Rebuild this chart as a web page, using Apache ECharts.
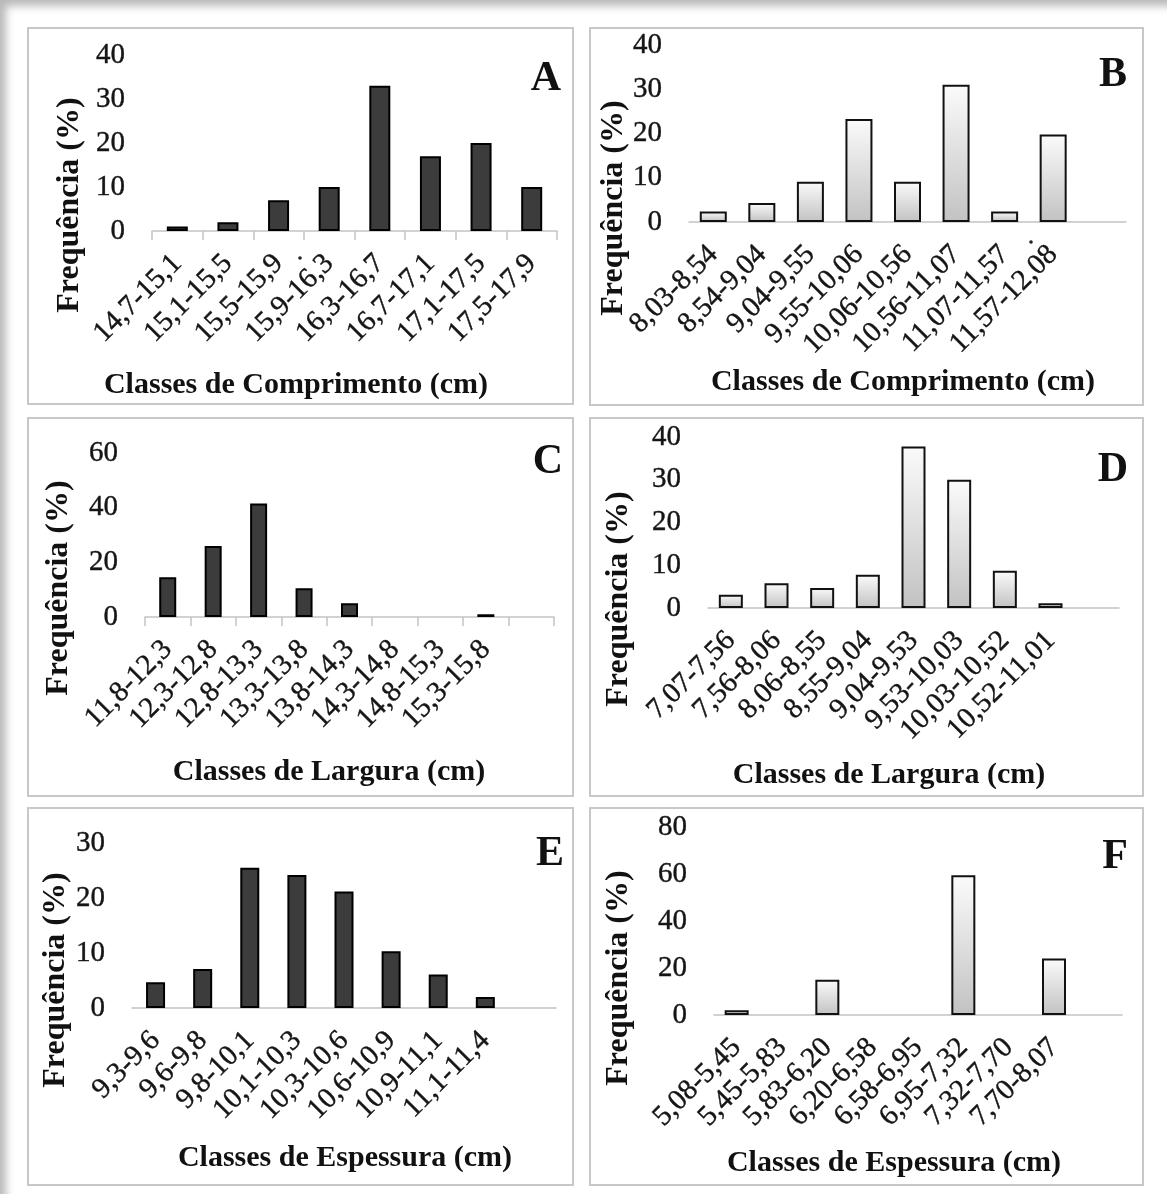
<!DOCTYPE html>
<html><head><meta charset="utf-8">
<script src="https://cdn.jsdelivr.net/npm/echarts@6/dist/echarts.min.js"></script>
<style>
html,body{margin:0;padding:0;background:#fff;}
#wrap{position:relative;width:1167px;height:1194px;overflow:hidden;background:#fff;}
#shade{position:absolute;left:0;top:0;width:1167px;height:1194px;box-shadow:inset 9px 9px 8px -3px rgba(0,0,0,0.28);pointer-events:none;z-index:2;}
#chart{position:absolute;left:0;top:0;width:1167px;height:1194px;}
</style></head>
<body><div id="wrap"><div id="chart"></div><div id="shade"></div></div>
<script>
// ---- data ----
const catsA = ['14,7-15,1','15,1-15,5','15,5-15,9','15,9-16,3','16,3-16,7','16,7-17,1','17,1-17,5','17,5-17,9'];
const valsA = [1, 2, 7, 10, 33, 17, 20, 10];
const catsB = ['8,03-8,54','8,54-9,04','9,04-9,55','9,55-10,06','10,06-10,56','10,56-11,07','11,07-11,57','11,57-12,08',''];
const valsB = [2.4, 4.3, 9.1, 23.3, 9.1, 31, 2.4, 19.8, null];
const catsC = ['11,8-12,3','12,3-12,8','12,8-13,3','13,3-13,8','13,8-14,3','14,3-14,8','14,8-15,3','15,3-15,8',''];
const valsC = [14.5, 26, 41.5, 10.5, 5, 0, 0, 1, null];
const catsD = ['7,07-7,56','7,56-8,06','8,06-8,55','8,55-9,04','9,04-9,53','9,53-10,03','10,03-10,52','10,52-11,01',''];
const valsD = [3.1, 5.8, 4.7, 7.8, 37.8, 30, 8.7, 1.1, null];
const catsE = ['9,3-9,6','9,6-9,8','9,8-10,1','10,1-10,3','10,3-10,6','10,6-10,9','10,9-11,1','11,1-11,4',''];
const valsE = [4.7, 7.1, 25.5, 24.2, 21.2, 10.3, 6.1, 2.0, null];
const catsF = ['5,08-5,45','5,45-5,83','5,83-6,20','6,20-6,58','6,58-6,95','6,95-7,32','7,32-7,70','7,70-8,07',''];
const valsF = [2, 0, 15, 0, 0, 59.5, 0, 24, null];

const yMaxA = 40, yStepA = 10;
const yMaxB = 40, yStepB = 10;
const yMaxC = 60, yStepC = 20;
const yMaxD = 40, yStepD = 10;
const yMaxE = 30, yStepE = 10;
const yMaxF = 80, yStepF = 20;

const panelLetters = ['A','B','C','D','E','F'];
const yNames = ['Frequência (%)','Frequência (%)','Frequência (%)','Frequência (%)','Frequência (%)','Frequência (%)'];
const xNames = ['Classes de Comprimento (cm)','Classes de Comprimento (cm)','Classes de Largura (cm)','Classes de Largura (cm)','Classes de Espessura (cm)','Classes de Espessura (cm)'];

// ---- layout ----
const SERIF = '"Liberation Serif","Times New Roman",serif';
const panels = [
  {cats:catsA, vals:valsA, max:yMaxA, step:yStepA, grid:{left:152, top:55, width:405, height:176}, box:[28,28,545,376], dark:true, ticks:true, bw:21,
   yName:[70,205], xName:[296,385], letter:[546,79]},
  {cats:catsB, vals:valsB, max:yMaxB, step:yStepB, grid:{left:689, top:45, width:437, height:177}, box:[590,28,553,377], dark:false, ticks:false, bw:27,
   yName:[614,208], xName:[903,382], letter:[1113,75]},
  {cats:catsC, vals:valsC, max:yMaxC, step:yStepC, grid:{left:145, top:453, width:409, height:164}, box:[28,418,545,378], dark:true, ticks:true, bw:17,
   yName:[59,588], xName:[329,772], letter:[548,462]},
  {cats:catsD, vals:valsD, max:yMaxD, step:yStepD, grid:{left:708, top:437, width:411, height:171}, box:[590,418,553,378], dark:false, ticks:false, bw:24,
   yName:[619,599], xName:[889,775], letter:[1113,470]},
  {cats:catsE, vals:valsE, max:yMaxE, step:yStepE, grid:{left:132, top:843, width:424, height:165}, box:[28,808,545,377], dark:true, ticks:false, bw:19,
   yName:[56,980], xName:[345,1158], letter:[550,854]},
  {cats:catsF, vals:valsF, max:yMaxF, step:yStepF, grid:{left:714, top:827, width:408, height:188}, box:[590,808,553,377], dark:false, ticks:false, bw:24,
   yName:[619,978], xName:[894,1163], letter:[1115,857]}
];

const darkStyle = {color:'#3c3c3c', borderColor:'#000', borderWidth:2};
const lightStyle = {
  color:{type:'linear', x:0, y:0, x2:0, y2:1, colorStops:[{offset:0,color:'#fbfbfb'},{offset:1,color:'#c2c2c2'}]},
  borderColor:'#111', borderWidth:2
};

const grid = [], xAxis = [], yAxis = [], series = [], graphic = [];
panels.forEach((p, i) => {
  grid.push(Object.assign({}, p.grid));
  xAxis.push({
    type:'category', gridIndex:i, data:p.cats, boundaryGap:true,
    axisLine:{show:true, lineStyle:{color:'#c3c3c3', width:1.5}},
    axisTick:{show:p.ticks, length:9, lineStyle:{color:'#c3c3c3', width:1.5}},
    axisLabel:{interval:0, rotate:45, margin:28, fontFamily:SERIF, fontSize:29, color:'#151515',
      textBorderColor:'#151515', textBorderWidth:0.4},
    splitLine:{show:false}
  });
  yAxis.push({
    type:'value', gridIndex:i, min:0, max:p.max, interval:p.step,
    axisLine:{show:false}, axisTick:{show:false}, splitLine:{show:false},
    axisLabel:{margin:27, fontFamily:SERIF, fontSize:29, color:'#151515',
      textBorderColor:'#151515', textBorderWidth:0.4}
  });
  series.push({
    type:'bar', xAxisIndex:i, yAxisIndex:i, barWidth:p.bw,
    data:p.vals.map(v => (v === 0 ? null : v)),
    itemStyle: p.dark ? darkStyle : lightStyle,
    silent:true, animation:false
  });
  graphic.push({type:'rect', shape:{x:p.box[0], y:p.box[1], width:p.box[2], height:p.box[3]},
    style:{fill:'none', stroke:'#c8c8c8', lineWidth:2}, silent:true});
  graphic.push({type:'text', x:p.yName[0], y:p.yName[1], rotation:Math.PI/2,
    style:{text:yNames[i], font:'bold 32px ' + SERIF, fill:'#111', textAlign:'center', textVerticalAlign:'middle', align:'center', verticalAlign:'middle'}});
  graphic.push({type:'text', x:p.xName[0], y:p.xName[1],
    style:{text:xNames[i], font:'bold 30px ' + SERIF, fill:'#111', textAlign:'center', textVerticalAlign:'middle', align:'center', verticalAlign:'middle'}});
  graphic.push({type:'text', x:p.letter[0], y:p.letter[1],
    style:{text:panelLetters[i], font:'bold 42px ' + SERIF, fill:'#111', textAlign:'center', textVerticalAlign:'middle', align:'center', verticalAlign:'middle'}});
});
// small stray marks present in the scanned figure
graphic.push({type:'circle', shape:{cx:300, cy:258, r:1.8}, style:{fill:'#222'}});
graphic.push({type:'circle', shape:{cx:1031, cy:242, r:1.8}, style:{fill:'#222'}});

const chart = echarts.init(document.getElementById('chart'), null, {renderer:'canvas'});
chart.setOption({animation:false, backgroundColor:'transparent', grid, xAxis, yAxis, series, graphic});
</script>
</body></html>
